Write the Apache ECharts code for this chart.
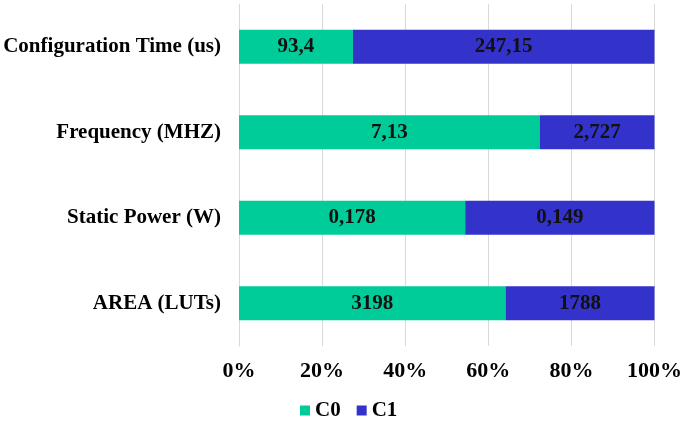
<!DOCTYPE html>
<html><head><meta charset="utf-8">
<script src="https://cdn.jsdelivr.net/npm/echarts@6/dist/echarts.min.js"></script>
<style>html,body{margin:0;padding:0;background:#fff}#c{width:685px;height:422px}</style>
</head><body><div id="c"></div>
<script>
const categories = ['AREA (LUTs)', 'Static Power (W)', 'Frequency (MHZ)', 'Configuration Time (us)'];
const c0Values = [3198, 0.178, 7.13, 93.4];
const c1Values = [1788, 0.149, 2.727, 247.15];
const c0Labels = ['3198', '0,178', '7,13', '93,4'];
const c1Labels = ['1788', '0,149', '2,727', '247,15'];
const xTicks = [0, 20, 40, 60, 80, 100];

const totals = c0Values.map((v, i) => v + c1Values[i]);
const pct = (arr) => arr.map((v, i) => v / totals[i] * 100);
const font = 'Liberation Serif';
const chart = echarts.init(document.getElementById('c'));
chart.setOption({
  animation: false,
  grid: { left: 239, right: 30, top: 4, bottom: 76, containLabel: false },
  legend: {
    bottom: -4, left: 295, itemWidth: 10, itemHeight: 10, itemGap: 16,
    icon: 'rect',
    textStyle: { fontFamily: font, fontWeight: 'bold', fontSize: 21, color: '#000' },
    data: ['C0', 'C1']
  },
  xAxis: {
    type: 'value', min: 0, max: 100, interval: 20,
    axisLabel: { formatter: '{value}%', fontFamily: font, fontWeight: 'bold', fontSize: 22, color: '#000', margin: 14 },
    splitLine: { show: true, lineStyle: { color: '#d9d9d9', width: 1 } },
    axisLine: { show: false }, axisTick: { show: false }
  },
  yAxis: {
    type: 'category', data: categories,
    axisLabel: { fontFamily: font, fontWeight: 'bold', fontSize: 21, color: '#000', margin: 18 },
    axisLine: { show: true, lineStyle: { color: '#d9d9d9' } }, axisTick: { show: false }
  },
  series: [
    { name: 'C0', type: 'bar', stack: 's', barWidth: '40%', data: pct(c0Values),
      itemStyle: { color: '#00CC99' },
      label: { show: true, position: 'inside', formatter: p => c0Labels[p.dataIndex], fontFamily: font, fontWeight: 'bold', fontSize: 21, color: '#111' } },
    { name: 'C1', type: 'bar', stack: 's', barWidth: '40%', data: pct(c1Values),
      itemStyle: { color: '#3333CC' },
      label: { show: true, position: 'inside', formatter: p => c1Labels[p.dataIndex], fontFamily: font, fontWeight: 'bold', fontSize: 21, color: '#111' } }
  ]
});
</script></body></html>
